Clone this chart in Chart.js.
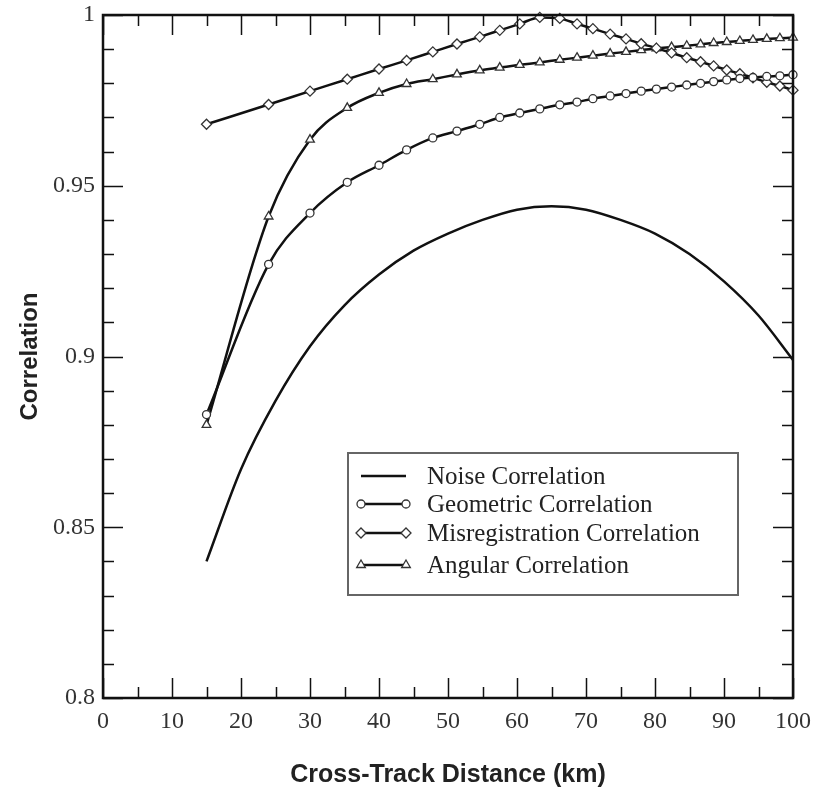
<!DOCTYPE html>
<html>
<head>
<meta charset="utf-8">
<script src="https://cdn.jsdelivr.net/npm/chart.js@4.4.0/dist/chart.umd.min.js"></script>
<style>
  html, body { margin: 0; padding: 0; background: #fff; }
  canvas { display: block; }
</style>
</head>
<body>
<canvas id="chart" width="817" height="793"></canvas>
<script>
// cross-track distance (km) for the sampled series
const distance = [15, 24, 30, 35.4, 40, 44, 47.8, 51.3, 54.6, 57.5, 60.4, 63.3, 66.2, 68.7, 71,
  73.5, 75.8, 78, 80.2, 82.4, 84.6, 86.6, 88.5, 90.4, 92.3, 94.2, 96.2, 98.1, 100]

const noiseDistance = [15, 20, 25, 30, 35, 40, 45, 50, 55, 60, 65, 70, 75, 80, 85, 90, 95, 100]
const noiseCorr = [0.840, 0.867, 0.887, 0.903, 0.915, 0.924, 0.931, 0.936, 0.940, 0.943, 0.944,
  0.943, 0.940, 0.936, 0.930, 0.922, 0.912, 0.899]

const geometricCorr = [0.883, 0.927, 0.942, 0.951, 0.956, 0.9605, 0.964, 0.966, 0.968, 0.970,
  0.9713, 0.9725, 0.9737, 0.9745, 0.9755, 0.9763, 0.977, 0.9777, 0.9783, 0.9789, 0.9795,
  0.980, 0.9805, 0.981, 0.9814, 0.9817, 0.982, 0.9822, 0.9825]

const misregCorr = [0.968, 0.9738, 0.9777, 0.9812, 0.9842, 0.9867, 0.9892, 0.9915, 0.9936,
  0.9955, 0.9974, 0.9993, 0.9990, 0.9974, 0.9960, 0.9944, 0.9930, 0.9916, 0.9903, 0.9889,
  0.9875, 0.9863, 0.9851, 0.9839, 0.9828, 0.9816, 0.9803, 0.9792, 0.978]

const angularCorr = [0.880, 0.941, 0.9635, 0.9728, 0.9772, 0.9798, 0.9812, 0.9826, 0.9838,
  0.9846, 0.9854, 0.9861, 0.9869, 0.9875, 0.9881, 0.9887, 0.9892, 0.9897, 0.9902, 0.9906,
  0.9910, 0.9914, 0.9918, 0.9921, 0.9924, 0.9927, 0.9930, 0.9932, 0.9934]

const xTicks = [0, 10, 20, 30, 40, 50, 60, 70, 80, 90, 100]
const yTicks = [0.8, 0.85, 0.9, 0.95, 1]
const yTickLabels = ['0.8', '0.85', '0.9', '0.95', '1']

function pairs(xs, ys) {
  return xs.map((x, i) => ({ x: x, y: ys[i] }))
}

function series(label, xs, ys, style, radius) {
  return {
    label: label,
    data: pairs(xs, ys),
    borderColor: '#111',
    borderWidth: 2.5,
    pointStyle: style || 'circle',
    pointRadius: style ? radius : 0,
    pointBackgroundColor: '#fff',
    pointBorderColor: '#333',
    pointBorderWidth: 1.3,
    cubicInterpolationMode: 'monotone',
    clip: false
  }
}

const serif = '"Liberation Serif", "Times New Roman", serif'
const sans = '"Liberation Sans", Arial, sans-serif'

// frame, inward ticks on all four sides and the boxed legend
const framePlugin = {
  id: 'frame',
  afterDatasetsDraw(chart) {
    const c = chart.ctx
    const a = chart.chartArea
    const xs = chart.scales.x
    const ys = chart.scales.y
    c.save()
    c.strokeStyle = '#111'
    c.lineWidth = 1.5
    for (let v = 0; v <= 100; v += 5) {
      const px = Math.round(xs.getPixelForValue(v)) + 0.5
      const len = v % 10 === 0 ? 20 : 11
      c.beginPath()
      c.moveTo(px, a.bottom); c.lineTo(px, a.bottom - len)
      c.moveTo(px, a.top); c.lineTo(px, a.top + len)
      c.stroke()
    }
    for (let k = 0; k <= 20; k++) {
      const py = Math.round(ys.getPixelForValue(0.8 + k * 0.01)) + 0.5
      const len = k % 5 === 0 ? 20 : 11
      c.beginPath()
      c.moveTo(a.left, py); c.lineTo(a.left + len, py)
      c.moveTo(a.right, py); c.lineTo(a.right - len, py)
      c.stroke()
    }
    c.lineWidth = 2.5
    c.strokeRect(a.left, a.top, a.right - a.left, a.bottom - a.top)

    // legend
    const bx = 348, by = 453, bw = 390, bh = 142
    c.fillStyle = '#fff'
    c.fillRect(bx, by, bw, bh)
    c.strokeStyle = '#666'
    c.lineWidth = 2
    c.strokeRect(bx, by, bw, bh)
    const rows = [476, 504, 533, 565]
    c.font = '25px ' + serif
    c.textBaseline = 'middle'
    chart.data.datasets.forEach((ds, i) => {
      const y = rows[i]
      c.strokeStyle = '#111'
      c.lineWidth = 2.5
      c.beginPath(); c.moveTo(361, y); c.lineTo(406, y); c.stroke()
      if (ds.pointRadius > 0) {
        c.lineWidth = ds.pointBorderWidth
        c.strokeStyle = ds.pointBorderColor
        c.fillStyle = '#fff'
        ;[361, 406].forEach(px => {
          Chart.helpers.drawPoint(c, { pointStyle: ds.pointStyle, radius: ds.pointRadius, rotation: 0, borderWidth: ds.pointBorderWidth }, px, y)
        })
      }
      c.fillStyle = '#222'
      c.fillText(ds.label, 427, y + 1)
    })
    c.restore()
  }
}

const ctx = document.getElementById('chart')
new Chart(ctx, {
  type: 'line',
  data: {
    datasets: [
      series('Noise Correlation', noiseDistance, noiseCorr),
      series('Geometric Correlation', distance, geometricCorr, 'circle', 4),
      series('Misregistration Correlation', distance, misregCorr, 'rectRot', 5),
      series('Angular Correlation', distance, angularCorr, 'triangle', 5)
    ]
  },
  options: {
    responsive: false,
    animation: false,
    layout: { padding: { top: 15, right: 24, left: 0, bottom: 0 } },
    plugins: {
      legend: { display: false },
      tooltip: { enabled: false }
    },
    scales: {
      x: {
        type: 'linear',
        min: 0,
        max: 100,
        afterFit: s => { s.height = 95 },
        afterBuildTicks: s => { s.ticks = xTicks.map(v => ({ value: v })) },
        grid: { display: false },
        border: { display: false },
        ticks: {
          padding: 1,
          color: '#333',
          font: { family: serif, size: 24 },
          maxRotation: 0,
          callback: v => String(v)
        },
        title: {
          display: true,
          text: 'Cross-Track Distance (km)',
          color: '#222',
          font: { family: sans, size: 25, weight: 'bold' },
          padding: { top: 3, bottom: 3 }
        }
      },
      y: {
        type: 'linear',
        min: 0.8,
        max: 1,
        afterFit: s => { s.width = 103 },
        afterBuildTicks: s => { s.ticks = yTicks.map(v => ({ value: v })) },
        grid: { display: false },
        border: { display: false },
        ticks: {
          padding: 0,
          color: '#333',
          font: { family: serif, size: 24 },
          callback: (v, i) => yTickLabels[i]
        },
        title: {
          display: true,
          text: 'Correlation',
          color: '#222',
          font: { family: sans, size: 24, weight: 'bold' },
          padding: { top: 16, bottom: 16 }
        }
      }
    }
  },
  plugins: [framePlugin]
})
</script>
</body>
</html>
